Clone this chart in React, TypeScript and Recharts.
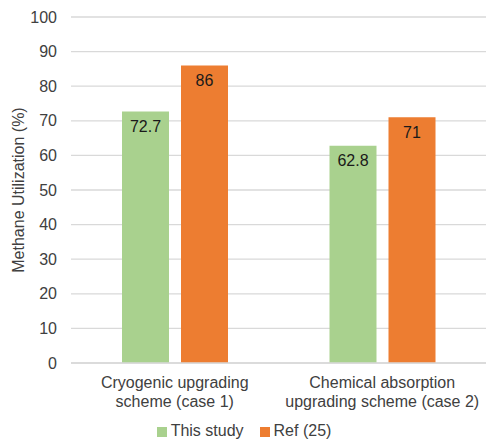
import React from 'react';
import { BarChart, Bar, XAxis, YAxis, CartesianGrid, Legend, LabelList } from 'recharts';

const categories = ['Cryogenic upgrading scheme (case 1)', 'Chemical absorption upgrading scheme (case 2)'];
const categoryLines = [
  ['Cryogenic upgrading', 'scheme (case 1)'],
  ['Chemical absorption', 'upgrading scheme (case 2)'],
];
const seriesNames = ['This study', 'Ref (25)'];
const thisStudy = [72.7, 62.8];
const ref25 = [86, 71];
const yTicks = [0, 10, 20, 30, 40, 50, 60, 70, 80, 90, 100];

const data = categories.map((name, i) => ({
  name,
  thisStudy: thisStudy[i],
  ref25: ref25[i],
}));

const FONT = 'Liberation Sans, Arial, sans-serif';

const CategoryTick = ({ x, y, index }: any) => {
  const lines = categoryLines[index] || [];
  return (
    <text x={x} y={y} textAnchor="middle" fill="#404040" fontSize={16} fontFamily={FONT}>
      {lines.map((line, i) => (
        <tspan key={i} x={x} dy={i === 0 ? 17 : 19}>
          {line}
        </tspan>
      ))}
    </text>
  );
};

const App: React.FC = () => {
  return (
    <div style={{ position: 'absolute', left: 0, top: 0, fontFamily: FONT }}>
      <BarChart
        width={486}
        height={440}
        data={data}
        margin={{ top: 17, right: 0, left: 0, bottom: 27 }}
        barGap={12}
        barSize={47}
      >
        <CartesianGrid vertical={false} stroke="#d9d9d9" strokeWidth={1.3} />
        <XAxis
          dataKey="name"
          height={50}
          tick={<CategoryTick />}
          tickLine={false}
          axisLine={{ stroke: '#d9d9d9', strokeWidth: 1.3 }}
          interval={0}
        />
        <YAxis
          width={71}
          domain={[0, 100]}
          ticks={yTicks}
          axisLine={false}
          tickLine={false}
          tickSize={6}
          tickMargin={8}
          tick={{ fill: '#404040', fontSize: 16, fontFamily: FONT }}
          label={{
            value: 'Methane Utilization (%)',
            angle: -90,
            position: 'insideLeft',
            offset: 18,
            fill: '#404040',
            fontSize: 16,
            fontFamily: FONT,
            style: { textAnchor: 'middle' },
          }}
        />
        <Legend
          verticalAlign="middle"
          align="center"
          iconType="square"
          iconSize={10}
          itemSorter={(item: any) => seriesNames.indexOf(item.value)}
          wrapperStyle={{ top: 422, left: 6, width: 486, fontSize: 16, fontFamily: FONT }}
          formatter={(value: string) => (
            <span style={{ color: '#404040', paddingRight: value === seriesNames[0] ? 6 : 0 }}>{value}</span>
          )}
        />
        <Bar dataKey="thisStudy" name={seriesNames[0]} fill="#A9D18E" isAnimationActive={false}>
          <LabelList dataKey="thisStudy" position="insideTop" offset={9} fill="#1a1a1a" fontSize={16} fontFamily={FONT} />
        </Bar>
        <Bar dataKey="ref25" name={seriesNames[1]} fill="#ED7D31" isAnimationActive={false}>
          <LabelList dataKey="ref25" position="insideTop" offset={9} fill="#1a1a1a" fontSize={16} fontFamily={FONT} />
        </Bar>
      </BarChart>
    </div>
  );
};

export default App;
